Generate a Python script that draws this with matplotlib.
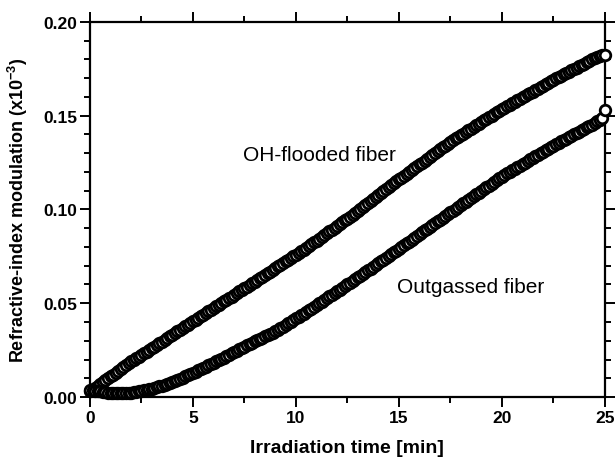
import matplotlib
matplotlib.use("Agg")
import matplotlib.pyplot as plt
from matplotlib.ticker import MultipleLocator

plt.rcParams['font.family'] = ['Liberation Sans', 'DejaVu Sans']
plt.rcParams['mathtext.fontset'] = 'custom'
plt.rcParams['mathtext.rm'] = 'Liberation Sans:bold'
plt.rcParams['mathtext.bf'] = 'Liberation Sans:bold'

# Irradiation time (min)
time_min = [
    0.000, 0.125, 0.250, 0.375, 0.500, 0.625, 0.750, 0.875,
    1.000, 1.125, 1.250, 1.375, 1.500, 1.625, 1.750, 1.875,
    2.000, 2.125, 2.250, 2.375, 2.500, 2.625, 2.750, 2.875,
    3.000, 3.125, 3.250, 3.375, 3.500, 3.625, 3.750, 3.875,
    4.000, 4.125, 4.250, 4.375, 4.500, 4.625, 4.750, 4.875,
    5.000, 5.125, 5.250, 5.375, 5.500, 5.625, 5.750, 5.875,
    6.000, 6.125, 6.250, 6.375, 6.500, 6.625, 6.750, 6.875,
    7.000, 7.125, 7.250, 7.375, 7.500, 7.625, 7.750, 7.875,
    8.000, 8.125, 8.250, 8.375, 8.500, 8.625, 8.750, 8.875,
    9.000, 9.125, 9.250, 9.375, 9.500, 9.625, 9.750, 9.875,
    10.000, 10.125, 10.250, 10.375, 10.500, 10.625, 10.750, 10.875,
    11.000, 11.125, 11.250, 11.375, 11.500, 11.625, 11.750, 11.875,
    12.000, 12.125, 12.250, 12.375, 12.500, 12.625, 12.750, 12.875,
    13.000, 13.125, 13.250, 13.375, 13.500, 13.625, 13.750, 13.875,
    14.000, 14.125, 14.250, 14.375, 14.500, 14.625, 14.750, 14.875,
    15.000, 15.125, 15.250, 15.375, 15.500, 15.625, 15.750, 15.875,
    16.000, 16.125, 16.250, 16.375, 16.500, 16.625, 16.750, 16.875,
    17.000, 17.125, 17.250, 17.375, 17.500, 17.625, 17.750, 17.875,
    18.000, 18.125, 18.250, 18.375, 18.500, 18.625, 18.750, 18.875,
    19.000, 19.125, 19.250, 19.375, 19.500, 19.625, 19.750, 19.875,
    20.000, 20.125, 20.250, 20.375, 20.500, 20.625, 20.750, 20.875,
    21.000, 21.125, 21.250, 21.375, 21.500, 21.625, 21.750, 21.875,
    22.000, 22.125, 22.250, 22.375, 22.500, 22.625, 22.750, 22.875,
    23.000, 23.125, 23.250, 23.375, 23.500, 23.625, 23.750, 23.875,
    24.000, 24.125, 24.250, 24.375, 24.500, 24.625, 24.750, 24.875,
    25.000]

# OH-flooded fiber, index modulation (x1e-3)
oh_flooded = [
    0.0030, 0.0040, 0.0050, 0.0060, 0.0070, 0.0080, 0.0090, 0.0100,
    0.0110, 0.0120, 0.0130, 0.0140, 0.0150, 0.0160, 0.0170, 0.0180,
    0.0190, 0.0199, 0.0208, 0.0216, 0.0225, 0.0234, 0.0243, 0.0251,
    0.0260, 0.0269, 0.0278, 0.0287, 0.0296, 0.0305, 0.0314, 0.0323,
    0.0332, 0.0341, 0.0350, 0.0359, 0.0368, 0.0377, 0.0386, 0.0395,
    0.0404, 0.0413, 0.0422, 0.0431, 0.0440, 0.0449, 0.0458, 0.0466,
    0.0475, 0.0484, 0.0493, 0.0501, 0.0510, 0.0519, 0.0528, 0.0536,
    0.0545, 0.0554, 0.0563, 0.0571, 0.0580, 0.0589, 0.0598, 0.0606,
    0.0615, 0.0624, 0.0633, 0.0642, 0.0651, 0.0660, 0.0669, 0.0678,
    0.0687, 0.0696, 0.0705, 0.0714, 0.0723, 0.0732, 0.0741, 0.0750,
    0.0759, 0.0768, 0.0777, 0.0786, 0.0795, 0.0805, 0.0815, 0.0824,
    0.0834, 0.0844, 0.0854, 0.0863, 0.0873, 0.0883, 0.0893, 0.0902,
    0.0912, 0.0922, 0.0932, 0.0941, 0.0951, 0.0961, 0.0971, 0.0980,
    0.0990, 0.1000, 0.1011, 0.1022, 0.1033, 0.1043, 0.1054, 0.1064,
    0.1075, 0.1085, 0.1096, 0.1107, 0.1118, 0.1128, 0.1139, 0.1149,
    0.1160, 0.1170, 0.1180, 0.1190, 0.1200, 0.1210, 0.1220, 0.1230,
    0.1240, 0.1250, 0.1260, 0.1270, 0.1280, 0.1290, 0.1300, 0.1310,
    0.1320, 0.1330, 0.1340, 0.1350, 0.1360, 0.1369, 0.1378, 0.1386,
    0.1395, 0.1404, 0.1413, 0.1421, 0.1430, 0.1439, 0.1448, 0.1456,
    0.1465, 0.1474, 0.1483, 0.1491, 0.1500, 0.1509, 0.1518, 0.1526,
    0.1535, 0.1543, 0.1551, 0.1558, 0.1566, 0.1574, 0.1582, 0.1589,
    0.1597, 0.1605, 0.1613, 0.1620, 0.1628, 0.1636, 0.1644, 0.1651,
    0.1659, 0.1667, 0.1675, 0.1682, 0.1690, 0.1698, 0.1705, 0.1712,
    0.1719, 0.1727, 0.1734, 0.1741, 0.1748, 0.1756, 0.1763, 0.1770,
    0.1777, 0.1785, 0.1792, 0.1799, 0.1806, 0.1812, 0.1818, 0.1821,
    0.1825]

# Outgassed fiber, index modulation (x1e-3)
outgassed = [
    0.0040, 0.0038, 0.0035, 0.0033, 0.0030, 0.0028, 0.0026, 0.0024,
    0.0022, 0.0021, 0.0021, 0.0021, 0.0021, 0.0021, 0.0022, 0.0023,
    0.0024, 0.0026, 0.0028, 0.0030, 0.0033, 0.0036, 0.0039, 0.0042,
    0.0045, 0.0049, 0.0053, 0.0057, 0.0061, 0.0065, 0.0070, 0.0075,
    0.0080, 0.0086, 0.0092, 0.0098, 0.0104, 0.0110, 0.0117, 0.0123,
    0.0129, 0.0135, 0.0142, 0.0148, 0.0155, 0.0162, 0.0169, 0.0176,
    0.0183, 0.0190, 0.0197, 0.0204, 0.0211, 0.0218, 0.0226, 0.0233,
    0.0240, 0.0247, 0.0254, 0.0261, 0.0269, 0.0276, 0.0283, 0.0290,
    0.0297, 0.0304, 0.0311, 0.0317, 0.0324, 0.0330, 0.0337, 0.0344,
    0.0352, 0.0360, 0.0368, 0.0376, 0.0385, 0.0393, 0.0402, 0.0411,
    0.0420, 0.0428, 0.0437, 0.0445, 0.0454, 0.0463, 0.0472, 0.0481,
    0.0491, 0.0500, 0.0509, 0.0518, 0.0528, 0.0537, 0.0546, 0.0555,
    0.0564, 0.0573, 0.0582, 0.0591, 0.0600, 0.0609, 0.0619, 0.0628,
    0.0638, 0.0647, 0.0657, 0.0666, 0.0676, 0.0685, 0.0695, 0.0704,
    0.0714, 0.0723, 0.0733, 0.0742, 0.0752, 0.0761, 0.0771, 0.0780,
    0.0790, 0.0800, 0.0810, 0.0819, 0.0829, 0.0839, 0.0849, 0.0858,
    0.0868, 0.0878, 0.0888, 0.0897, 0.0907, 0.0917, 0.0927, 0.0936,
    0.0946, 0.0956, 0.0966, 0.0975, 0.0985, 0.0994, 0.1004, 0.1013,
    0.1023, 0.1032, 0.1042, 0.1051, 0.1061, 0.1070, 0.1080, 0.1089,
    0.1099, 0.1108, 0.1118, 0.1127, 0.1137, 0.1146, 0.1156, 0.1165,
    0.1175, 0.1183, 0.1192, 0.1200, 0.1208, 0.1216, 0.1225, 0.1233,
    0.1241, 0.1249, 0.1258, 0.1266, 0.1274, 0.1282, 0.1291, 0.1299,
    0.1307, 0.1315, 0.1324, 0.1332, 0.1340, 0.1347, 0.1355, 0.1362,
    0.1370, 0.1377, 0.1385, 0.1392, 0.1400, 0.1407, 0.1415, 0.1422,
    0.1430, 0.1437, 0.1445, 0.1452, 0.1460, 0.1469, 0.1478, 0.1485,
    0.1530]

x_ticks = [0, 5, 10, 15, 20, 25]
y_ticks = [0.00, 0.05, 0.10, 0.15, 0.20]

fig = plt.figure(figsize=(6.16, 4.64), dpi=100)
ax = fig.add_axes([0.146, 0.142, 0.836, 0.809])

for series in (oh_flooded, outgassed):
    ax.plot(time_min, series, linestyle='none', marker='o', markersize=7.6,
            markerfacecolor='white', markeredgecolor='black', markeredgewidth=2.0,
            clip_on=False, zorder=3)

ax.set_xlim(0, 25)
ax.set_ylim(0, 0.20)
ax.set_xticks(x_ticks)
ax.set_yticks(y_ticks)
ax.set_xticklabels([str(v) for v in x_ticks])
ax.set_yticklabels([f"{v:.2f}" for v in y_ticks])
ax.xaxis.set_minor_locator(MultipleLocator(2.5))
ax.yaxis.set_minor_locator(MultipleLocator(0.01))

ax.tick_params(which='both', direction='out', top=True, right=True,
               labeltop=False, labelright=False, width=1.4)
ax.tick_params(which='major', length=7, pad=2, labelsize=12.5)
ax.tick_params(which='minor', length=4)
for lbl in ax.get_xticklabels() + ax.get_yticklabels():
    lbl.set_fontweight('bold')
for sp in ax.spines.values():
    sp.set_linewidth(1.6)

ax.set_xlabel('Irradiation time [min]', fontsize=14, fontweight='bold', labelpad=10)
ax.set_ylabel(r'Refractive-index modulation (x10$^{\mathbf{-3}}$)', fontsize=13,
              fontweight='bold', labelpad=10)

ax.text(7.43, 0.129, 'OH-flooded fiber', fontsize=15, va='center', ha='left')
ax.text(14.9, 0.059, 'Outgassed fiber', fontsize=15, va='center', ha='left')

fig.savefig('out.png', dpi=100)
